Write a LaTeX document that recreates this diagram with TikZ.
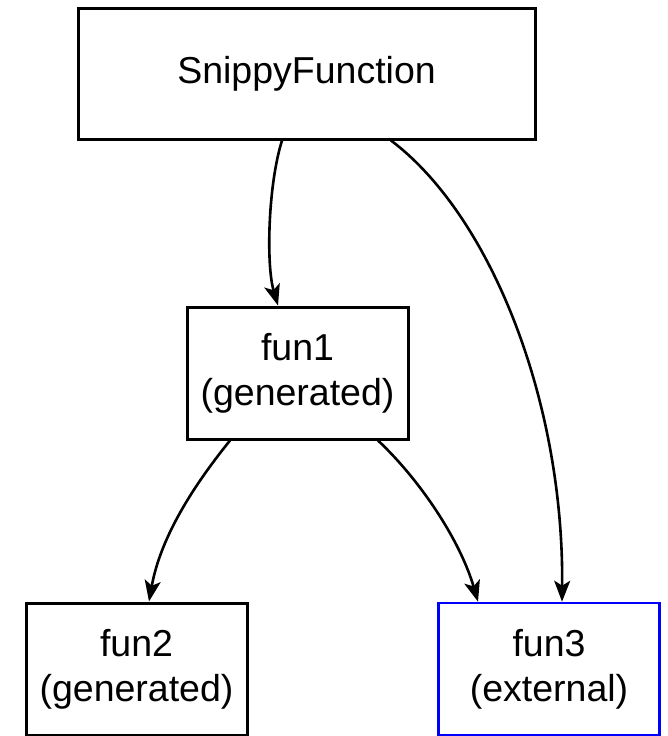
\documentclass[tikz,border=0pt]{standalone}
\usepackage{fontspec}
\setmainfont{Liberation Sans}
\usetikzlibrary{arrows.meta}

\tikzset{
  funbox/.style={draw=black, line width=3pt, minimum width=221pt, minimum height=132pt,
    align=center, inner sep=0pt, font=\fontsize{37.5}{45}\selectfont},
  calledge/.style={line width=2.6pt, -{Stealth[length=21pt,width=16pt,inset=5pt]}}
}

\begin{document}
\begin{tikzpicture}[x=1pt,y=1pt,yscale=-1,xscale=1]
\useasboundingbox (0,0) rectangle (667,736);

% Boxes
\node [funbox, minimum width=457pt, minimum height=131pt] (snippy) at (306.5,73.5) {SnippyFunction};
\node [funbox] (fun1) at (297.5,373) {fun1\\(generated)};
\node [funbox] (fun2) at (136.5,669) {fun2\\(generated)};
\node [funbox, draw=blue, line width=2.6pt] (fun3) at (549,669) {fun3\\(external)};

% Calls
\draw [calledge] ([xshift=-24.5pt]snippy.south) .. controls (268,185) and (266,265) .. ([xshift=-19.5pt]fun1.north);
\draw [calledge] ([xshift=84.5pt]snippy.south) .. controls (490,215) and (564,400) .. ([xshift=13pt]fun3.north);
\draw [calledge] ([xshift=-67.5pt]fun1.south) .. controls (190,490) and (160,540) .. ([xshift=12.5pt]fun2.north);
\draw [calledge] ([xshift=80.5pt]fun1.south) .. controls (420,480) and (460,540) .. ([xshift=-71pt]fun3.north);

\end{tikzpicture}
\end{document}
